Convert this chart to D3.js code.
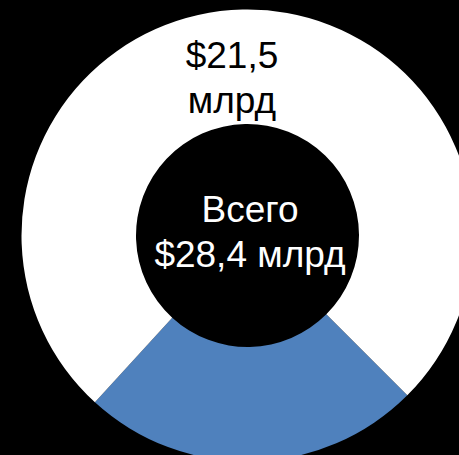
<!DOCTYPE html>
<html>
<head>
<meta charset="utf-8">
<script src="https://cdn.jsdelivr.net/npm/d3@7"></script>
<style>
  html, body { margin: 0; padding: 0; background: #000; }
  svg { display: block; }
  .label { font-family: "Liberation Sans", Arial, sans-serif; font-size: 37px; }
</style>
</head>
<body>
<div id="chart"></div>
<script>
// segments: blue part first so it sits at the bottom
var segments = ["Прочее", "Основное"];
var values = [6.9, 21.5];
var colors = ["#4F81BD", "#FFFFFF"];
var sliceLabel = ["$21,5", "млрд"];
var centerLabel = ["Всего", "$28,4 млрд"];

var width = 459,
    height = 455,
    cx = 247.5,
    cy = 235.5,
    outerR = 226,
    innerR = 111.5;

var svg = d3.select("#chart")
  .append("svg")
    .attr("width", width)
    .attr("height", height)
  .append("g")
    .attr("transform", "translate(" + cx + "," + cy + ")");

var pie = d3.pie()
  .sort(null)
  .startAngle(Math.PI * 0.75)
  .endAngle(Math.PI * 0.75 + 2 * Math.PI)
  .value(function(d) { return d; });

var arc = d3.arc()
  .innerRadius(innerR)
  .outerRadius(outerR);

svg.selectAll(".slice")
  .data(pie(values))
  .enter()
  .append("path")
    .attr("class", "slice")
    .attr("d", arc)
    .style("fill", function(d, i) { return colors[i]; });

// label inside the white ring
svg.append("text")
    .attr("class", "label")
    .attr("text-anchor", "middle")
    .attr("fill", "#000")
  .selectAll("tspan")
    .data(sliceLabel)
  .enter()
  .append("tspan")
    .attr("x", -15.5)
    .attr("y", function(d, i) { return -167.5 + i * 45; })
    .text(function(d) { return d; });

// total in the hole
svg.append("text")
    .attr("class", "label")
    .attr("text-anchor", "middle")
    .attr("fill", "#fff")
  .selectAll("tspan")
    .data(centerLabel)
  .enter()
  .append("tspan")
    .attr("x", 2.5)
    .attr("y", function(d, i) { return -13.5 + i * 45; })
    .text(function(d) { return d; });
</script>
</body>
</html>
